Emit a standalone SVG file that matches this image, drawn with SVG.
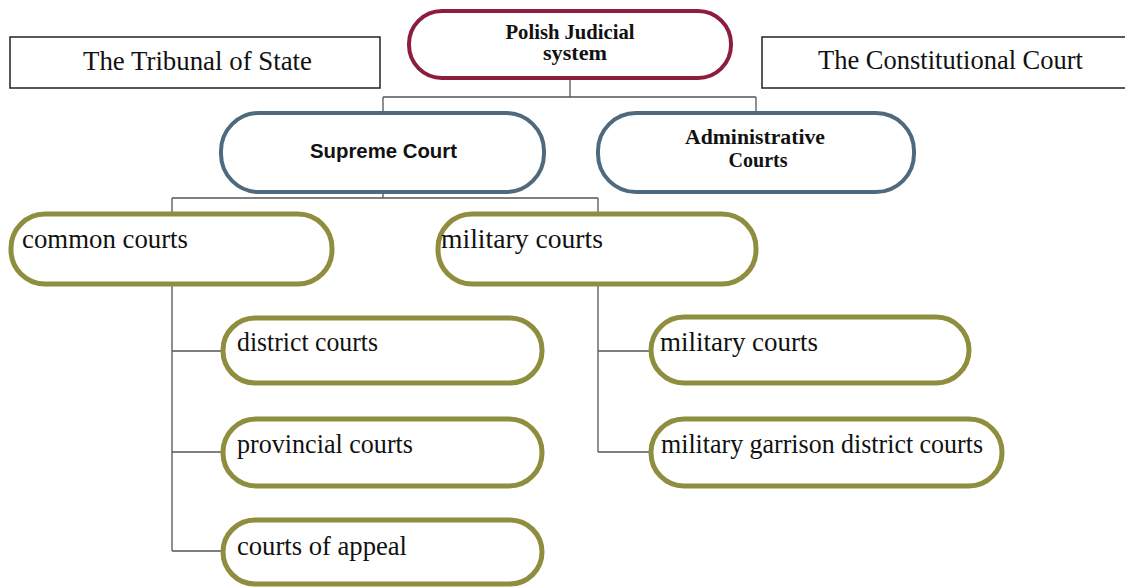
<svg xmlns="http://www.w3.org/2000/svg" width="1125" height="588" viewBox="0 0 1125 588">
<style>
.bg{fill:#ffffff}
.plain{fill:#fff;stroke:#222;stroke-width:1.5}
.red{fill:#fff;stroke:#8C1D3C;stroke-width:4}
.blue{fill:#fff;stroke:#4F6A7E;stroke-width:4}
.olive{fill:#fff;stroke:#8E8E3E;stroke-width:5}
.conn{fill:none;stroke:#555;stroke-width:1.3}
.t{font-family:"Liberation Serif","Times New Roman",serif;font-size:27px;fill:#111}
.tb{font-family:"Liberation Serif","Times New Roman",serif;font-size:20px;font-weight:bold;fill:#111;text-anchor:middle}
.ts{font-family:"Liberation Sans",Arial,sans-serif;font-size:21px;font-weight:bold;fill:#111}
</style>
<rect class="bg" x="0" y="0" width="1125" height="588"/>
<g id="connectors">
<path class="conn" d="M570 79V97M383 97H756M383 97V112M756 97V112"/>
<path class="conn" d="M383 193V198M172 198H598M172 198V213M598 198V213"/>
<path class="conn" d="M172 285V551M172 351H222M172 452H222M172 551H222"/>
<path class="conn" d="M598 285V452M598 351H650M598 452H650"/>
</g>
<g id="tribunal"><rect class="plain" x="10" y="37" width="370" height="51"/><text class="t" x="83" y="70" textLength="229" lengthAdjust="spacingAndGlyphs">The Tribunal of State</text></g>
<g id="constitutional"><rect class="plain" x="762" y="37" width="370" height="51"/><text class="t" x="818" y="69" textLength="265" lengthAdjust="spacingAndGlyphs">The Constitutional Court</text></g>
<g id="polish"><rect class="red" x="409" y="11" width="322" height="67" rx="33"/><text class="tb" x="570" y="39" textLength="129" lengthAdjust="spacingAndGlyphs">Polish Judicial</text><text class="tb" x="575" y="60" textLength="64" lengthAdjust="spacingAndGlyphs">system</text></g>
<g id="supreme"><rect class="blue" x="221" y="113" width="323" height="79" rx="38"/><text class="ts" x="310" y="158" textLength="147" lengthAdjust="spacingAndGlyphs">Supreme Court</text></g>
<g id="administrative"><rect class="blue" x="598" y="113" width="316" height="79" rx="38"/><text class="tb" x="755" y="144" textLength="140" lengthAdjust="spacingAndGlyphs">Administrative</text><text class="tb" x="758" y="167" textLength="59" lengthAdjust="spacingAndGlyphs">Courts</text></g>
<g id="common"><rect class="olive" x="11" y="214" width="321" height="70" rx="34"/><text class="t" x="22" y="248" textLength="166" lengthAdjust="spacingAndGlyphs">common courts</text></g>
<g id="military"><rect class="olive" x="438" y="214" width="318" height="70" rx="34"/><text class="t" x="441" y="248" textLength="162" lengthAdjust="spacingAndGlyphs">military courts</text></g>
<g id="district"><rect class="olive" x="223" y="318" width="319" height="65" rx="32"/><text class="t" x="237" y="351" textLength="141" lengthAdjust="spacingAndGlyphs">district courts</text></g>
<g id="provincial"><rect class="olive" x="223" y="419" width="319" height="67" rx="33"/><text class="t" x="237" y="453" textLength="176" lengthAdjust="spacingAndGlyphs">provincial courts</text></g>
<g id="appeal"><rect class="olive" x="223" y="520" width="319" height="64" rx="32"/><text class="t" x="237" y="555" textLength="170" lengthAdjust="spacingAndGlyphs">courts of appeal</text></g>
<g id="military2"><rect class="olive" x="651" y="317" width="318" height="66" rx="33"/><text class="t" x="660" y="351" textLength="158" lengthAdjust="spacingAndGlyphs">military courts</text></g>
<g id="garrison"><rect class="olive" x="651" y="419" width="351" height="67" rx="33"/><text class="t" x="661" y="453" textLength="322" lengthAdjust="spacingAndGlyphs">military garrison  district courts</text></g>
</svg>
